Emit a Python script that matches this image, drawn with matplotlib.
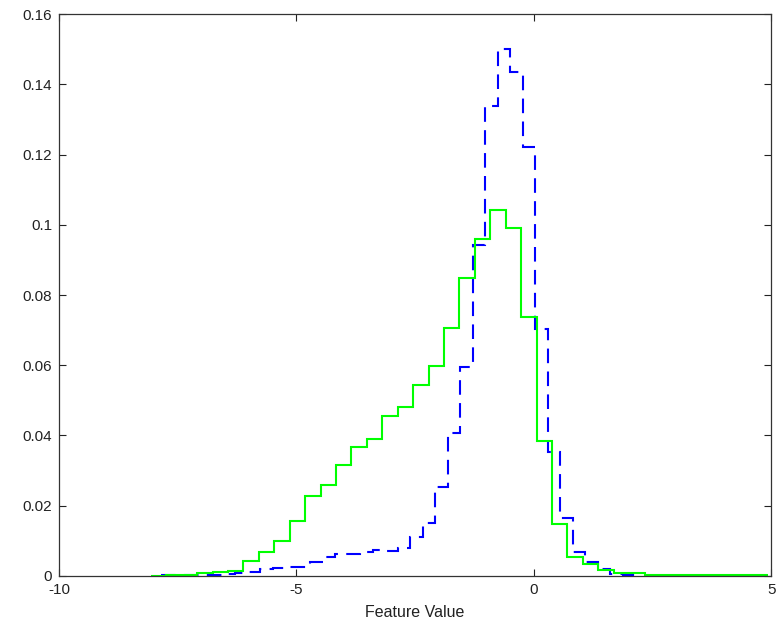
import numpy as np
import matplotlib
matplotlib.use("Agg")
import matplotlib.pyplot as plt

plt.rcParams['font.family'] = ['Liberation Sans', 'DejaVu Sans']
plt.rcParams['axes.unicode_minus'] = False

# green histogram (solid), bin width ~0.325
green_edges = np.round(-8.065 + 0.325 * np.arange(41), 3)
green_vals = [0.0001, 0.0002, 0.0002, 0.0008, 0.0011, 0.0015, 0.0043, 0.0068,
              0.0100, 0.0156, 0.0228, 0.0259, 0.0315, 0.0366, 0.0389, 0.0456,
              0.0482, 0.0545, 0.0598, 0.0707, 0.0848, 0.0959, 0.1043, 0.0992,
              0.0736, 0.0385, 0.0147, 0.0053, 0.0035, 0.0017, 0.0008, 0.0008,
              0.0003, 0.0003, 0.0003, 0.0003, 0.0002, 0.0002, 0.0002, 0.0002]

# blue histogram (dashed), bin width ~0.263
blue_edges = np.round(-7.86 + 0.263 * np.arange(39), 3)
blue_vals = [0.0002, 0.0002, 0.0002, 0.0003, 0.0003, 0.0006, 0.0008, 0.0012,
             0.0019, 0.0022, 0.0027, 0.0027, 0.0039, 0.0053, 0.0062, 0.0064,
             0.0067, 0.0074, 0.0070, 0.0081, 0.0110, 0.0150, 0.0253, 0.0408,
             0.0596, 0.0941, 0.1337, 0.1501, 0.1436, 0.1221, 0.0703, 0.0352,
             0.0164, 0.0067, 0.0039, 0.0019, 0.0006, 0.0003]

xticks = [-10, -5, 0, 5]
yticks = [0, 0.02, 0.04, 0.06, 0.08, 0.1, 0.12, 0.14, 0.16]
ytick_labels = ['0', '0.02', '0.04', '0.06', '0.08', '0.1', '0.12', '0.14', '0.16']

fig = plt.figure(figsize=(7.8, 6.38), dpi=100)
ax = fig.add_axes([0.0756, 0.0972, 0.913, 0.8808])

ax.stairs(blue_vals, blue_edges, baseline=None, color=(0, 0, 1),
          linewidth=1.5, linestyle=(0, (7, 4)))
ax.stairs(green_vals, green_edges, baseline=None, color=(0, 1, 0),
          linewidth=1.5)

ax.set_xlim(-10, 5)
ax.set_ylim(0, 0.16)
ax.set_xticks(xticks)
ax.set_yticks(yticks)
ax.set_yticklabels(ytick_labels)
ax.tick_params(direction='in', length=5, width=0.8, labelsize=11,
               top=True, right=True, pad=5, colors='#222222')
for s in ax.spines.values():
    s.set_linewidth(0.9)
    s.set_color('#333333')
ax.set_xlabel('Feature Value', fontsize=11.5, labelpad=6, color='#222222')

fig.savefig('out.png', dpi=100)
